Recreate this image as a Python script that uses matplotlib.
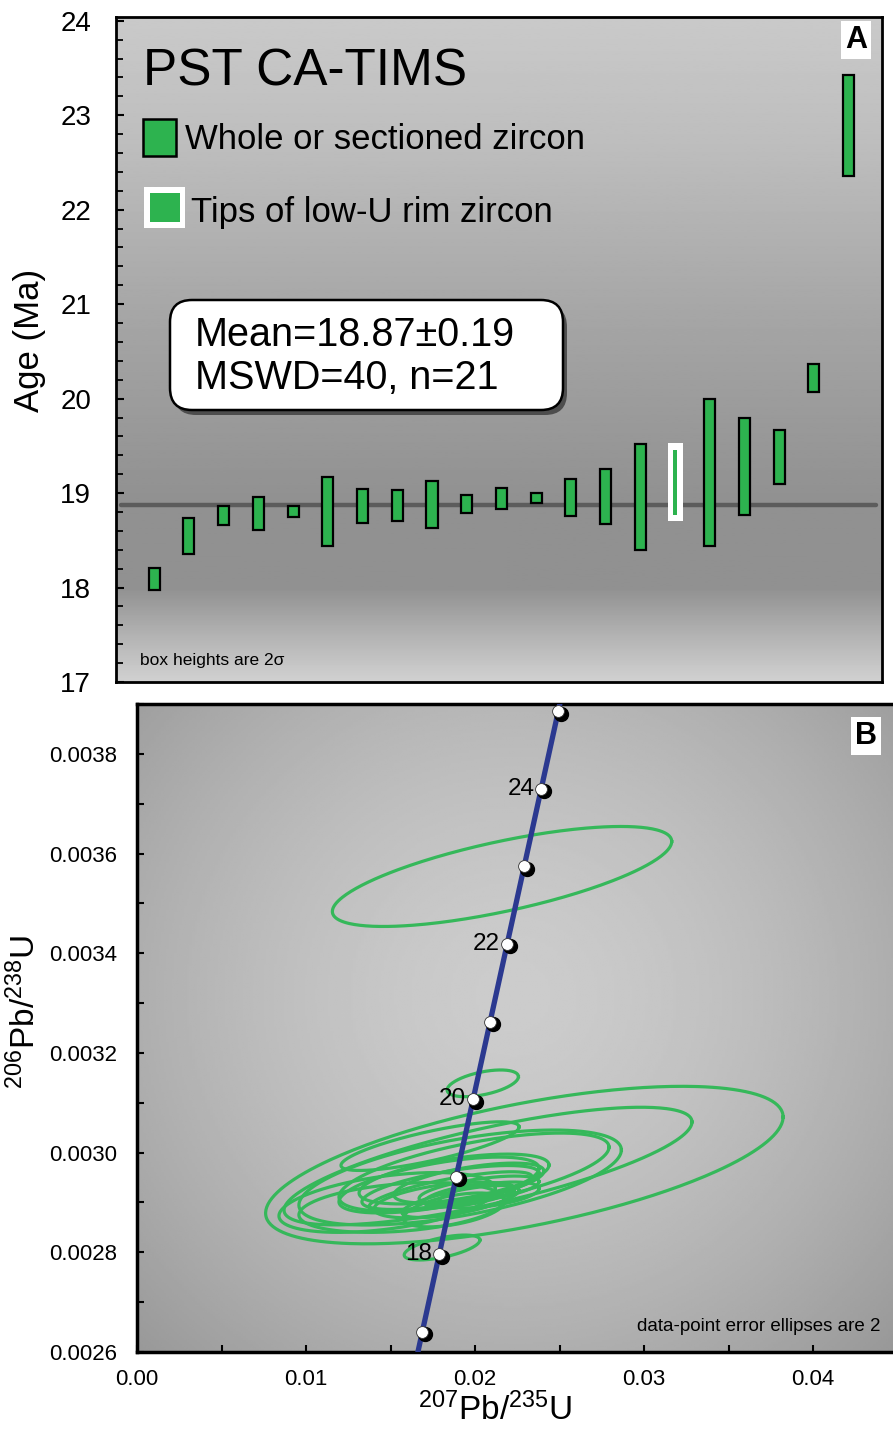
import numpy as np
import matplotlib
matplotlib.use("Agg")
import matplotlib.pyplot as plt
from matplotlib.patches import Rectangle, FancyBboxPatch
from matplotlib.ticker import MultipleLocator
from matplotlib import transforms

plt.rcParams['font.family'] = ['Liberation Sans', 'DejaVu Sans']
plt.rcParams['mathtext.default'] = 'regular'

# ---- panel A: CA-TIMS zircon ages, box limits are 2 sigma (Ma)
grain = list(range(1, 22))
age_lo = [17.97, 18.35, 18.66, 18.61, 18.75, 18.44, 18.68, 18.70, 18.63, 18.79, 18.83,
          18.89, 18.76, 18.67, 18.40, 18.77, 18.44, 18.77, 19.10, 20.07, 22.36]
age_hi = [18.21, 18.74, 18.86, 18.96, 18.86, 19.17, 19.04, 19.03, 19.13, 18.98, 19.05,
          19.00, 19.15, 19.25, 19.52, 19.46, 20.00, 19.80, 19.67, 20.37, 23.43]
tips_grain = 16
mean_age = 18.87
mean_err = 0.19
mswd = 40

# ---- panel B: concordia ticks (Ma) and ratios
conc_age = [16, 17, 18, 19, 20, 21, 22, 23, 24, 25, 26]
conc_x = [0.015882, 0.016883, 0.017885, 0.018888, 0.019892, 0.020897,
          0.021903, 0.022910, 0.023918, 0.024927, 0.025937]
conc_y = [0.0024851, 0.0026406, 0.0027962, 0.0029517, 0.0031073, 0.0032629,
          0.0034186, 0.0035742, 0.0037299, 0.0038856, 0.0040414]
label_ages = [18, 20, 22, 24]

# error ellipses: centre, 2 sigma errors and error correlation
ell_x = [0.02160, 0.02046, 0.01805, 0.02292, 0.02077, 0.01912, 0.01994, 0.01734,
         0.01565, 0.01876, 0.01855, 0.01855, 0.01914, 0.01964, 0.02024, 0.01817,
         0.01964, 0.02083, 0.01787, 0.01876, 0.01480]
ell_y = [0.003554, 0.003139, 0.0028096, 0.002975, 0.002973, 0.002950, 0.002961, 0.003013,
         0.002890, 0.002947, 0.002930, 0.0029216, 0.002902, 0.002915, 0.002925, 0.002905,
         0.002939, 0.002915, 0.002935, 0.002885, 0.002900]
ell_sx = [0.01004, 0.00211, 0.00224, 0.01531, 0.01207, 0.00954, 0.00799, 0.00527,
          0.00607, 0.00562, 0.00524, 0.00482, 0.00346, 0.00266, 0.00355, 0.00414,
          0.00444, 0.00296, 0.00592, 0.00300, 0.00640]
ell_sy = [0.0001003, 0.0000268, 0.000025, 0.000158, 0.000118, 0.0000953, 0.0000782, 0.0000488,
          0.000050, 0.000050, 0.0000441, 0.000040, 0.000032, 0.000024, 0.000028, 0.000036,
          0.000040, 0.000026, 0.000056, 0.000034, 0.000060]
ell_rho = [0.70, 0.50, 0.60, 0.61, 0.75, 0.58, 0.64, 0.79, 0.30, 0.56, 0.65, 0.75,
           0.70, 0.60, 0.60, 0.50, 0.60, 0.50, 0.60, 0.50, 0.45]

GREEN = '#2db34f'
ELL_GREEN = '#35b85a'
W, H = 893, 1433

fig = plt.figure(figsize=(W / 100, H / 100), dpi=100)
fig.patch.set_facecolor('white')


def rect(l, t, r, b):
    return [l / W, 1 - b / H, (r - l) / W, (b - t) / H]


# ================= panel A =================
axA = fig.add_axes(rect(116, 17, 882, 682))
xa0, xa1 = -0.1, 21.96
ya0, ya1 = 17.0, 24.04
axA.set_xlim(xa0, xa1)
axA.set_ylim(ya0, ya1)

rows = np.linspace(0, 1, 400)
shade = np.interp(rows, [0, 0.2, 0.45, 0.72, 0.86, 0.93, 1.0],
                  [0.79, 0.74, 0.65, 0.57, 0.57, 0.70, 0.82])
axA.imshow(shade[:, None], extent=[xa0, xa1, ya0, ya1], aspect='auto', cmap='gray',
           vmin=0, vmax=1, origin='upper', zorder=0)

axA.plot([0.035, 21.79], [mean_age, mean_age], color='#5c5c5c', lw=3.2,
         solid_capstyle='round', zorder=2)

lo = np.array(age_lo)
hi = np.array(age_hi)
g = np.array(grain)
reg = g != tips_grain
axA.bar(g[reg], hi[reg] - lo[reg], bottom=lo[reg], width=0.32, color=GREEN,
        edgecolor='black', linewidth=1.6, zorder=3)
t = tips_grain - 1
axA.bar(g[t], hi[t] - lo[t] + 0.14, bottom=lo[t] - 0.07, width=0.43, color='white',
        edgecolor='none', zorder=3)
axA.bar(g[t], hi[t] - lo[t], bottom=lo[t], width=0.11, color=GREEN,
        edgecolor='none', zorder=4)

axA.set_xticks([])
axA.set_yticks(range(17, 25))
axA.yaxis.set_minor_locator(MultipleLocator(0.2))
axA.tick_params(axis='y', which='major', direction='in', length=6, width=1.5,
                labelsize=20, pad=18)
axA.tick_params(axis='y', which='minor', direction='in', length=5, width=1.3)
for s in axA.spines.values():
    s.set_linewidth(2)


def fa(px, py):
    return ((px - 116) / 766, (682 - py) / 665)


axA.text(*fa(143, 85), 'PST CA-TIMS', transform=axA.transAxes, fontsize=37,
         va='baseline', zorder=5)
x, y = fa(143, 156)
w, h = 33 / 766, 37 / 665
axA.add_patch(Rectangle((x, y), w, h, transform=axA.transAxes, facecolor=GREEN,
                        edgecolor='black', lw=1.8, zorder=5))
axA.text(*fa(185, 149), 'Whole or sectioned zircon', transform=axA.transAxes,
         fontsize=25, va='baseline', zorder=5)
x, y = fa(144, 228)
axA.add_patch(Rectangle((x, y), 41 / 766, 41 / 665, transform=axA.transAxes,
                        facecolor='white', edgecolor='none', zorder=5))
x, y = fa(150, 222)
axA.add_patch(Rectangle((x, y), 30 / 766, 29 / 665, transform=axA.transAxes,
                        facecolor=GREEN, edgecolor='none', zorder=6))
axA.text(*fa(191, 222), 'Tips of low-U rim zircon', transform=axA.transAxes,
         fontsize=25, va='baseline', zorder=5)

# mean box with drop shadow (pixel coordinates)
pix = transforms.IdentityTransform()
bx, by, bw, bh = 170, H - 410, 393, 110
shadow = FancyBboxPatch((bx + 4, by - 5), bw, bh, boxstyle='round,pad=0,rounding_size=22',
                        transform=pix, facecolor='#333333', edgecolor='none', alpha=0.75,
                        zorder=6, clip_on=False)
box = FancyBboxPatch((bx, by), bw, bh, boxstyle='round,pad=0,rounding_size=22',
                     transform=pix, facecolor='white', edgecolor='black', lw=1.8,
                     zorder=7, clip_on=False)
axA.add_patch(shadow)
axA.add_patch(box)
axA.text(*fa(195, 346), 'Mean=%.2f\u00b1%.2f' % (mean_age, mean_err),
         transform=axA.transAxes, fontsize=28.5, va='baseline', zorder=8)
axA.text(*fa(195, 389), 'MSWD=%d, n=%d' % (mswd, len(grain)),
         transform=axA.transAxes, fontsize=28.5, va='baseline', zorder=8)

axA.text(*fa(856, 40), 'A', transform=axA.transAxes, fontsize=22, fontweight='bold',
         ha='center', va='center', zorder=8,
         bbox=dict(boxstyle='square,pad=0.12', facecolor='white', edgecolor='none'))
axA.text(*fa(140, 665), 'box heights are 2\u03c3', transform=axA.transAxes,
         fontsize=12.5, va='baseline', zorder=5)

fig.text(30 / W, 1 - 340 / H, 'Age (Ma)', rotation=90, fontsize=25,
         ha='center', va='center')

# ================= panel B =================
axB = fig.add_axes(rect(137, 704, 905, 1352))
axB.set_xlim(0, 768 / 16900)
axB.set_ylim(0.0026, 0.0039)

gx, gy = np.meshgrid(np.linspace(0, 1, 300), np.linspace(0, 1, 300))
d = np.sqrt(((gx - 0.49) / 0.62) ** 2 + ((gy - 0.55) / 0.70) ** 2)
bg = np.clip(0.80 - 0.17 * d ** 1.6, 0.55, 0.85)
axB.imshow(bg, extent=[0, 1, 0, 1], transform=axB.transAxes, aspect='auto',
           cmap='gray', vmin=0, vmax=1, origin='lower', zorder=0)

tt = np.linspace(0, 2 * np.pi, 300)
for x0, y0, sx, sy, r in zip(ell_x, ell_y, ell_sx, ell_sy, ell_rho):
    ex = x0 + sx * np.cos(tt)
    ey = y0 + sy * (r * np.cos(tt) + np.sqrt(1 - r ** 2) * np.sin(tt))
    axB.plot(ex, ey, color=ELL_GREEN, lw=2.3, zorder=2)

axB.plot(conc_x, conc_y, color='#2b3990', lw=3.8, zorder=3)
mk_x = [cx for a, cx in zip(conc_age, conc_x) if 17 <= a <= 25]
mk_y = [cy for a, cy in zip(conc_age, conc_y) if 17 <= a <= 25]
shift = transforms.offset_copy(axB.transData, fig=fig, x=2.5, y=-2.5, units='dots')
axB.plot(mk_x, mk_y, 'o', ms=10, color='black', transform=shift, zorder=4)
axB.plot(mk_x, mk_y, 'o', ms=8.5, mfc='white', mec='#333333', mew=0.6, zorder=5)
for a in label_ages:
    i = conc_age.index(a)
    axB.annotate(str(a), (conc_x[i], conc_y[i]), xytext=(-5, 0), textcoords='offset points',
                 ha='right', va='center', fontsize=17.5, zorder=6)

axB.set_xticks([0.0, 0.01, 0.02, 0.03, 0.04])
axB.set_xticklabels(['0.00', '0.01', '0.02', '0.03', '0.04'])
axB.xaxis.set_minor_locator(MultipleLocator(0.005))
axB.set_yticks([0.0026, 0.0028, 0.0030, 0.0032, 0.0034, 0.0036, 0.0038])
axB.set_yticklabels(['0.0026', '0.0028', '0.0030', '0.0032', '0.0034', '0.0036', '0.0038'])
axB.yaxis.set_minor_locator(MultipleLocator(0.0001))
axB.tick_params(which='both', direction='in', length=5, width=1.5)
axB.tick_params(axis='x', labelsize=16, pad=12)
axB.tick_params(axis='y', labelsize=16, pad=14)
for s in axB.spines.values():
    s.set_linewidth(2.5)


def fb(px, py):
    return ((px - 137) / 768, (1352 - py) / 648)


axB.text(*fb(866, 736), 'B', transform=axB.transAxes, fontsize=22, fontweight='bold',
         ha='center', va='center', zorder=8,
         bbox=dict(boxstyle='square,pad=0.12', facecolor='white', edgecolor='none'))
axB.text(*fb(637, 1331), 'data-point error ellipses are 2', transform=axB.transAxes,
         fontsize=13.5, va='baseline', zorder=8)

fig.text(25 / W, 1 - 1012 / H, '$^{206}$Pb/$^{238}$U', rotation=90, fontsize=24,
         ha='center', va='center')
fig.text(495 / W, 1 - 1410 / H, '$^{207}$Pb/$^{235}$U', fontsize=24,
         ha='center', va='center')

fig.savefig('out.png', dpi=100)
